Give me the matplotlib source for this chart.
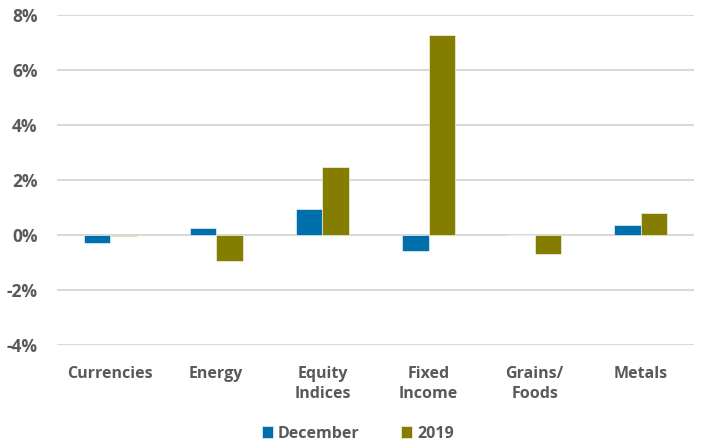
import matplotlib.pyplot as plt
import numpy as np
from matplotlib.ticker import FuncFormatter

# Chart data
categories = ["Currencies", "Energy", "Equity\nIndices", "Fixed\nIncome", "Grains/\nFoods", "Metals"]
december = [-0.29, 0.27, 0.93, -0.57, 0.01, 0.36]
year_2019 = [-0.05, -0.93, 2.48, 7.27, -0.70, 0.79]
series_labels = ["December", "2019"]

BLUE = "#0070AC"
OLIVE = "#847D00"
TEXT = "#595959"

plt.rcParams["font.family"] = ["Open Sans", "DejaVu Sans"]
plt.rcParams["font.weight"] = "bold"

fig = plt.figure(figsize=(7.02, 4.42), dpi=100)
ax = fig.add_axes([57 / 702, 1 - 345 / 442, (694 - 57) / 702, (345 - 15) / 442])

x = np.arange(len(categories))
width = 0.25
ax.bar(x - width / 2, december, width, color=BLUE, label=series_labels[0],
       edgecolor="white", linewidth=0.4, zorder=3)
ax.bar(x + width / 2, year_2019, width, color=OLIVE, label=series_labels[1],
       edgecolor="white", linewidth=0.4, zorder=3)

ax.set_xlim(-0.5, len(categories) - 0.5)
ax.set_ylim(-4, 8)
ax.set_yticks(np.arange(-4, 9, 2))
ax.yaxis.set_major_formatter(FuncFormatter(lambda v, _: "{:.0f}%".format(v)))
ax.set_xticks(x)
ax.set_xticklabels(categories, linespacing=1.35)

ax.grid(axis="y", color="#D9D9D9", linewidth=1.5, zorder=0)
for spine in ax.spines.values():
    spine.set_visible(False)
ax.tick_params(axis="both", length=0, colors=TEXT, labelsize=11.5)
ax.tick_params(axis="x", pad=15)
ax.tick_params(axis="y", pad=14, labelsize=12.5)
for lbl in ax.get_yticklabels() + ax.get_xticklabels():
    lbl.set_fontweight("bold")

leg = ax.legend(loc="upper center", bbox_to_anchor=(0.472, -0.225), ncol=2,
                frameon=False, handlelength=0.7, handleheight=0.7,
                handletextpad=0.3, columnspacing=2.6, borderaxespad=0,
                prop={"weight": "bold", "size": 11.5})
for t in leg.get_texts():
    t.set_color(TEXT)

fig.savefig("out.png", dpi=100)
